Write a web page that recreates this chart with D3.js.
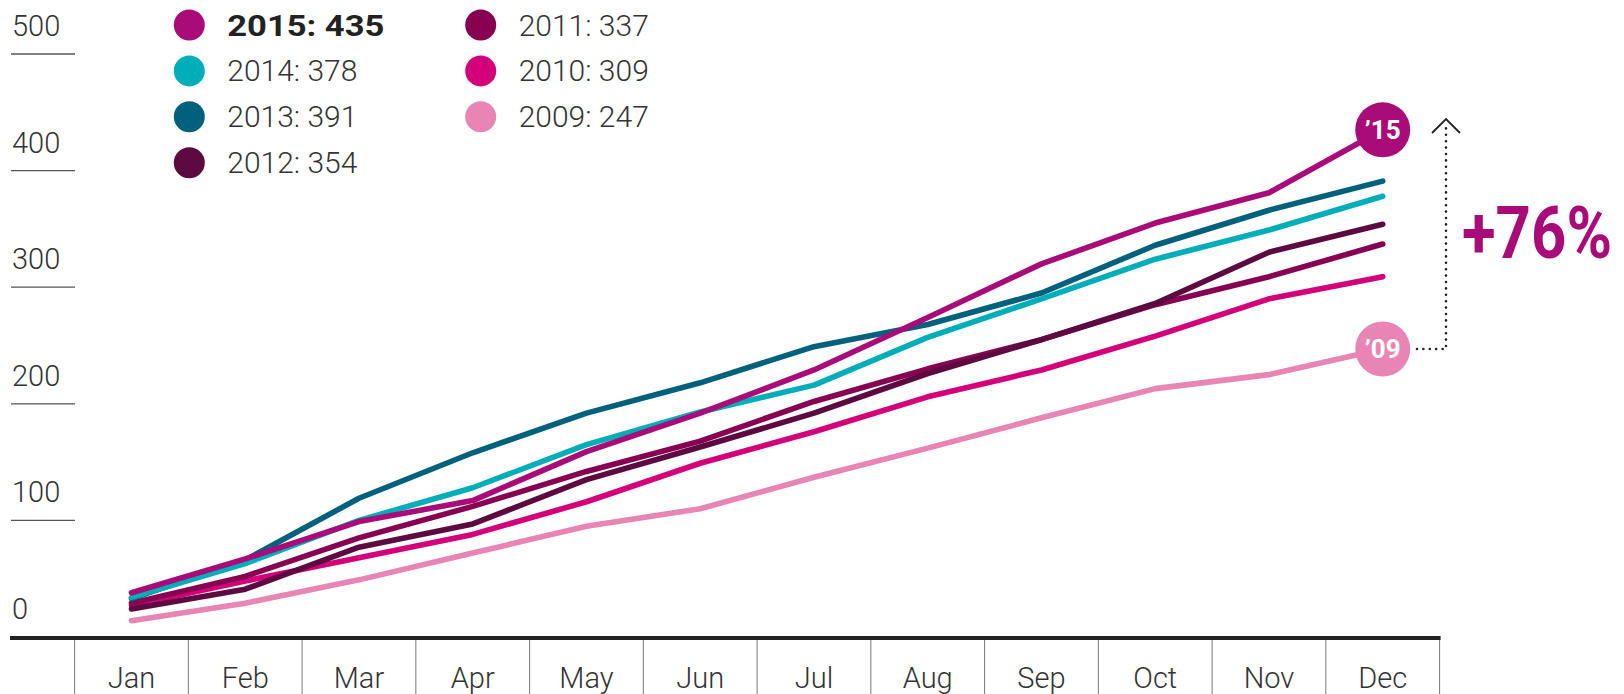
<!DOCTYPE html>
<html>
<head>
<meta charset="utf-8">
<script src="https://cdn.jsdelivr.net/npm/d3@7"></script>
<style>
  body { margin: 0; background: #fff; }
  svg { display: block; font-family: Roboto, "Noto Sans", sans-serif; }
</style>
</head>
<body>
<svg id="chart" width="1624" height="694"></svg>
<script>
// months on the x axis
var months = ["Jan", "Feb", "Mar", "Apr", "May", "Jun", "Jul", "Aug", "Sep", "Oct", "Nov", "Dec"];
var yTicks = [0, 100, 200, 300, 400, 500];

// cumulative values per year
var v2015 = [38, 67, 99, 117, 159, 192, 229, 274, 320, 355, 381, 435];
var v2014 = [34, 63, 100, 128, 165, 193, 216, 257, 290, 324, 349, 378];
var v2013 = [33, 66, 119, 158, 192, 218, 249, 268, 295, 336, 366, 391];
var v2012 = [24, 41, 77, 97, 135, 163, 192, 226, 255, 286, 330, 354];
var v2011 = [29, 52, 85, 112, 142, 168, 202, 230, 255, 285, 309, 337];
var v2010 = [27, 48, 68, 88, 116, 149, 176, 206, 229, 258, 290, 309];
var v2009 = [14, 29, 49, 72, 95, 110, 137, 162, 188, 213, 225, 247];

var years = ["2015", "2014", "2013", "2012", "2011", "2010", "2009"];
var values = [v2015, v2014, v2013, v2012, v2011, v2010, v2009];
var colors = ["#a90b78", "#00aeb9", "#00617d", "#5d0a41", "#870052", "#d4007a", "#e985b4"];

var change = "+76%";

var series = years.map(function(y, i) {
  return { year: y, values: values[i], color: colors[i], total: values[i][values[i].length - 1] };
});

var svg = d3.select("#chart");

var x = d3.scaleBand().domain(months).range([74.6, 1439.6]);
var y = d3.scaleLinear().domain([0, 500]).range([637, 54]);
var cx = function(m) { return x(m) + x.bandwidth() / 2; };

// y gridline stubs + labels
var yg = svg.append("g");
yg.selectAll("line").data(yTicks.filter(function(d) { return d > 0; }))
  .enter().append("line")
    .attr("x1", 11).attr("x2", 75)
    .attr("y1", function(d) { return y(d); })
    .attr("y2", function(d) { return y(d); })
    .attr("stroke", "#555").attr("stroke-width", 1.3);
yg.selectAll("text").data(yTicks)
  .enter().append("text")
    .attr("x", 12)
    .attr("y", function(d) { return y(d) - 18; })
    .attr("font-size", 29).attr("font-weight", 300)
    .attr("fill", "#333")
    .text(function(d) { return d; });

// x axis: thick baseline, separators and month labels
svg.append("line")
  .attr("x1", 10).attr("x2", x.range()[1] + 1)
  .attr("y1", y(0) + 1).attr("y2", y(0) + 1)
  .attr("stroke", "#222").attr("stroke-width", 4);

var seps = months.map(function(m) { return x(m); }).concat([x.range()[1]]);
svg.append("g").selectAll("line").data(seps)
  .enter().append("line")
    .attr("x1", function(d) { return d; }).attr("x2", function(d) { return d; })
    .attr("y1", y(0) + 3).attr("y2", 694)
    .attr("stroke", "#777").attr("stroke-width", 1);

svg.append("g").selectAll("text").data(months)
  .enter().append("text")
    .attr("x", cx)
    .attr("y", 688)
    .attr("text-anchor", "middle")
    .attr("font-size", 29).attr("font-weight", 300)
    .attr("fill", "#333")
    .text(function(d) { return d; });

// lines, oldest first so 2015 sits on top
var line = d3.line()
  .x(function(d, i) { return cx(months[i]); })
  .y(function(d) { return y(d); });

svg.append("g").selectAll("path").data(series.slice().reverse())
  .enter().append("path")
    .attr("d", function(d) { return line(d.values); })
    .attr("fill", "none")
    .attr("stroke", function(d) { return d.color; })
    .attr("stroke-width", 5.6)
    .attr("stroke-linecap", "round")
    .attr("stroke-linejoin", "round");

// end badges for '15 and '09
var first = series[0], last = series[series.length - 1];
[first, last].forEach(function(s) {
  var g = svg.append("g")
    .attr("transform", "translate(" + cx("Dec") + "," + y(s.total) + ")");
  g.append("circle").attr("r", 27.5).attr("fill", s.color);
  g.append("text")
    .attr("text-anchor", "middle")
    .attr("y", 9)
    .attr("font-size", 26).attr("font-weight", 700)
    .attr("fill", "#fff")
    .text("\u2019" + s.year.slice(2));
});

// dotted bracket with arrow
var bx = 1446, yTop = 119, yLow = y(last.total);
svg.append("path")
  .attr("d", "M" + 1417 + "," + yLow + "H" + bx + "V" + (yTop + 3))
  .attr("fill", "none")
  .attr("stroke", "#222").attr("stroke-width", 2.6)
  .attr("stroke-linecap", "round")
  .attr("stroke-dasharray", "0,6.4");
svg.append("path")
  .attr("d", "M" + (bx - 14) + "," + (yTop + 14) + "L" + bx + "," + yTop + "L" + (bx + 14) + "," + (yTop + 14))
  .attr("fill", "none")
  .attr("stroke", "#222").attr("stroke-width", 1.8);

// condensed look: narrower font, stretched vertically
svg.append("text")
  .attr("transform", "translate(1462,258) scale(1,1.16)")
  .attr("font-size", 63).attr("font-weight", 700)
  .attr("fill", first.color)
  .attr("textLength", 150).attr("lengthAdjust", "spacingAndGlyphs")
  .text(change);

// legend, two columns
var legend = svg.append("g");
series.forEach(function(s, i) {
  var col = i < 4 ? 0 : 1, row = i < 4 ? i : i - 4;
  var lx = col == 0 ? 189.3 : 480.7;
  var ly = 25 + row * 45.9;
  legend.append("circle")
    .attr("cx", lx).attr("cy", ly).attr("r", 15.5)
    .attr("fill", s.color);
  var t = legend.append("text")
    .attr("x", lx + 38).attr("y", ly + 10.5)
    .attr("font-size", 30)
    .attr("font-weight", i == 0 ? 700 : 300)
    .attr("fill", i == 0 ? "#222" : "#333")
    .text(s.year + ": " + s.total);
  if(i == 0) t.attr("textLength", 157).attr("lengthAdjust", "spacingAndGlyphs");
});
</script>
</body>
</html>
